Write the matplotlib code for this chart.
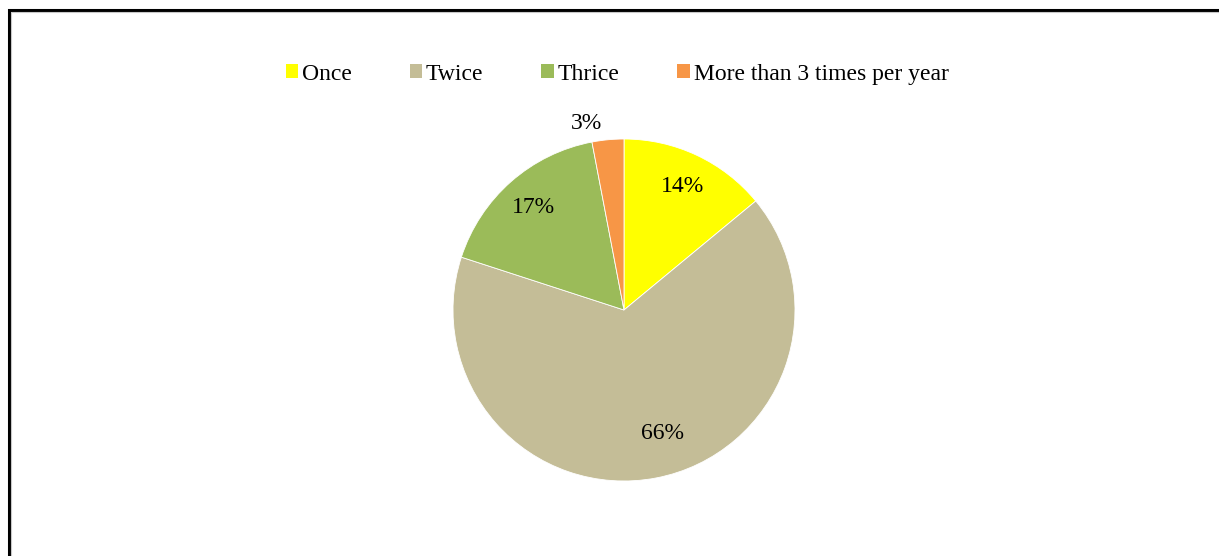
import numpy as np
import matplotlib.pyplot as plt
from matplotlib.patches import Patch, Rectangle

plt.rcParams['font.family'] = ['Liberation Serif', 'DejaVu Serif']

categories = ['Once', 'Twice', 'Thrice', 'More than 3 times per year']
shares = [14, 66, 17, 3]
colors = ['#FFFF00', '#C4BD97', '#9BBB59', '#F79646']
# label radius and angular nudge (degrees) per slice
label_dist = [0.80, 0.755, 0.80, 1.11]
label_turn = [0, 6.5, 0, 6]

W, H = 1219, 556
fig = plt.figure(figsize=(W / 100, H / 100), dpi=100)

# outer chart border (runs off the right and bottom edges)
fig.add_artist(Rectangle((8.5 / W, -0.1), 1.2, 1 - 9.5 / H + 0.1,
                         transform=fig.transFigure, fill=False,
                         edgecolor='black', linewidth=2.2))
fig.add_artist(Rectangle((10.5 / W, -0.1), 1.2, 1 - 11.5 / H + 0.1,
                         transform=fig.transFigure, fill=False,
                         edgecolor='#c8c8c8', linewidth=0.8))

cx, cy, r = 624, 310, 171
ax = fig.add_axes([(cx - r) / W, (H - cy - r) / H, 2 * r / W, 2 * r / H])

wedges, _ = ax.pie(shares, colors=colors, startangle=90, counterclock=False,
                   wedgeprops=dict(edgecolor='white', linewidth=0.6))
ax.set_xlim(-1, 1)
ax.set_ylim(-1, 1)
ax.set_aspect('equal')

for w, val, d, t in zip(wedges, shares, label_dist, label_turn):
    ang = np.deg2rad((w.theta1 + w.theta2) / 2 + t)
    ax.text(d * np.cos(ang), d * np.sin(ang), f'{val}%', ha='center',
            va='center', fontsize=17, color='black')

handles = [Patch(facecolor=c, edgecolor='none') for c in colors]
fig.legend(handles, categories, loc='center', bbox_to_anchor=(617 / W, 1 - 74 / H),
           ncol=4, frameon=False, fontsize=17, handlelength=0.52,
           handleheight=0.52, handletextpad=0.17, columnspacing=2.45)

fig.savefig('out.png', dpi=100)
